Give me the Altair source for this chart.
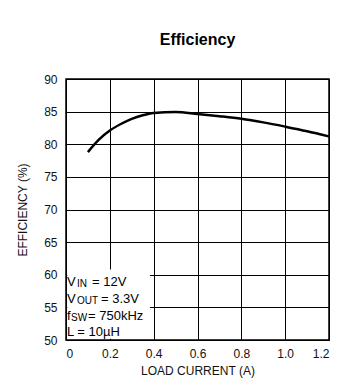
import altair as alt
import pandas as pd

# ---- data ----
load_current = [0.10, 0.15, 0.20, 0.25, 0.30, 0.35, 0.40, 0.50, 0.60, 0.70, 0.80, 0.90, 1.00, 1.10, 1.20]
efficiency   = [78.8, 80.7, 82.1, 83.1, 83.9, 84.45, 84.8, 84.95, 84.65, 84.3, 83.9, 83.35, 82.7, 82.0, 81.2]

x_ticks = [0, 0.2, 0.4, 0.6, 0.8, 1.0, 1.2]
y_ticks = [50, 55, 60, 65, 70, 75, 80, 85, 90]

annot_main = ["V", "V", "f", "L = 10µH"]
annot_sub  = ["IN", "OUT", "SW", ""]
annot_rest = ["= 12V", "= 3.3V", "= 750kHz", ""]
annot_y    = [58.3, 55.7, 53.1, 50.6]
annot_x    = [0, 0, 0, 0]

# white box behind the annotation (data coordinates)
box_x  = [0.006]
box_x2 = [0.383]
box_y  = [50.2]
box_y2 = [60.8]

FONT = "Liberation Sans, Arial, sans-serif"

df = pd.DataFrame({"I": load_current, "E": efficiency})

xscale = alt.Scale(domain=[0, 1.2], nice=False, zero=False)
yscale = alt.Scale(domain=[50, 90], nice=False, zero=False)

x_axis = alt.Axis(values=x_ticks, grid=True, gridColor="black", gridOpacity=1, gridWidth=1,
                  ticks=False, labelPadding=8, domain=False, labelOverlap=False,
                  labelExpr="datum.value == 0 ? '0' : format(datum.value, '.1f')",
                  titlePadding=6)
y_axis = alt.Axis(values=y_ticks, grid=True, gridColor="black", gridOpacity=1, gridWidth=1,
                  ticks=False, labelPadding=9, domain=False, labelOverlap=False,
                  titleX=-44, titleBaseline="middle")
X_TITLE = "LOAD CURRENT (A)"
Y_TITLE = "EFFICIENCY (%)"

line = alt.Chart(df).mark_line(color="black", strokeWidth=2.5, interpolate="monotone").encode(
    x=alt.X("I:Q", scale=xscale, title=X_TITLE, axis=x_axis),
    y=alt.Y("E:Q", scale=yscale, title=Y_TITLE, axis=y_axis),
)

box = alt.Chart(pd.DataFrame({"x": box_x, "x2": box_x2, "y": box_y, "y2": box_y2})).mark_rect(
    color="white").encode(
    x=alt.X("x:Q", scale=xscale, title=X_TITLE, axis=x_axis), x2="x2:Q",
    y=alt.Y("y:Q", scale=yscale, title=Y_TITLE, axis=y_axis), y2="y2:Q")

# annotation pieces (main text, subscript, rest) per line
main_dx = [1, 1, 1, 1]
sub_dx = [11, 11, 5, 0]
rest_dx = [26, 35, 22, 0]

layers = [line, box]
for i in range(len(annot_main)):
    row = pd.DataFrame({"x": [annot_x[i]], "y": [annot_y[i]],
                        "m": [annot_main[i]], "s": [annot_sub[i]], "r": [annot_rest[i]]})
    base = alt.Chart(row)
    enc = dict(x=alt.X("x:Q", scale=xscale, title=X_TITLE, axis=x_axis),
               y=alt.Y("y:Q", scale=yscale, title=Y_TITLE, axis=y_axis))
    layers.append(base.mark_text(align="left", baseline="alphabetic", font=FONT, fontSize=13,
                                 color="black", dx=main_dx[i]).encode(text="m:N", **enc))
    if annot_sub[i]:
        layers.append(base.mark_text(align="left", baseline="alphabetic", font=FONT, fontSize=10,
                                     color="black", dx=sub_dx[i], dy=1).encode(text="s:N", **enc))
        layers.append(base.mark_text(align="left", baseline="alphabetic", font=FONT, fontSize=13,
                                     color="black", dx=rest_dx[i]).encode(text="r:N", **enc))

chart = alt.layer(*layers).properties(
    width=263, height=261,
    title=alt.TitleParams("Efficiency", font=FONT, fontSize=16, fontWeight="bold",
                          color="black", anchor="middle", offset=25),
    autosize=alt.AutoSizeParams(type="none"),
    padding={"left": 66, "top": 79, "right": 28, "bottom": 48},
    background="white",
).configure_view(stroke="black", strokeWidth=1.5).configure_axis(
    labelFont=FONT, labelFontSize=12, labelColor="#111",
    titleFont=FONT, titleFontSize=12, titleColor="#111", titleFontWeight="normal",
)

chart.save("out.html", embed_options={"renderer": "svg", "actions": False})
